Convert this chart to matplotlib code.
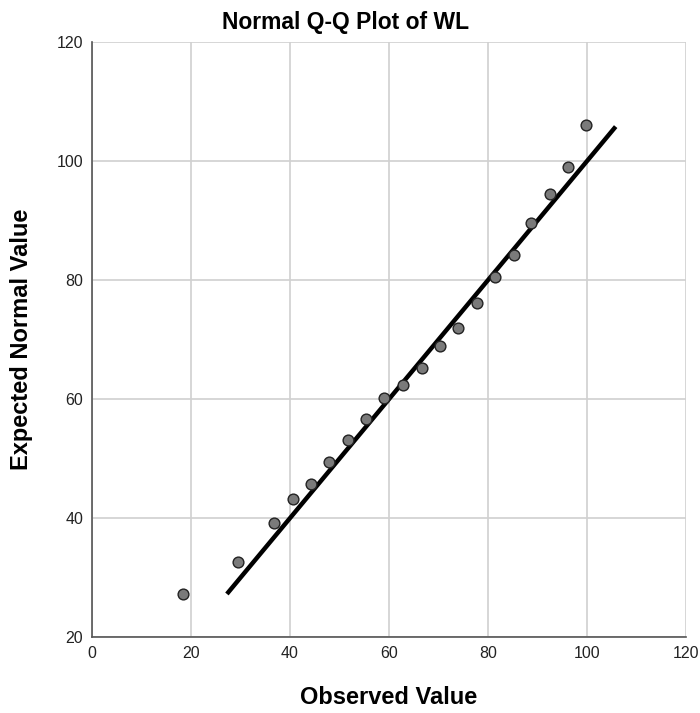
import matplotlib.pyplot as plt

plt.rcParams['font.family'] = ['Liberation Sans', 'DejaVu Sans']

observed = [18.4, 29.5, 36.9, 40.6, 44.3, 48.0, 51.7, 55.4, 59.1, 62.8, 66.6,
            70.3, 74.0, 77.7, 81.4, 85.2, 88.8, 92.5, 96.2, 99.8]
expected = [27.3, 32.7, 39.3, 43.2, 45.8, 49.4, 53.1, 56.7, 60.2, 62.4, 65.3,
            68.9, 72.0, 76.2, 80.6, 84.3, 89.6, 94.5, 99.0, 106.0]
line_x = [27.3, 105.8]
line_y = [27.3, 105.8]

fig = plt.figure(figsize=(7, 7.13), dpi=100)
ax = fig.add_axes([0.131, 0.106, 0.849, 0.835])

ax.grid(True, color='#d0d0d0', linewidth=1.2)
ax.set_axisbelow(True)
ax.plot(line_x, line_y, color='black', linewidth=3.2, solid_capstyle='butt', zorder=2)
ax.scatter(observed, expected, s=60, color='#7a7a7a', edgecolor='#222222',
           linewidth=1.0, zorder=3)

ax.set_xlim(0, 120)
ax.set_ylim(20, 120)
ax.set_xticks(range(0, 121, 20))
ax.set_yticks(range(20, 121, 20))

for s in ['top', 'right']:
    ax.spines[s].set_visible(False)
for s in ['left', 'bottom']:
    ax.spines[s].set_color('#555555')
    ax.spines[s].set_linewidth(1.2)
ax.tick_params(length=0, labelsize=11.5, colors='#222222', pad=6)

fig.text(0.494, 0.968, 'Normal Q-Q Plot of WL', fontsize=16.5, fontweight='bold',
         ha='center', va='center')
ax.set_xlabel('Observed Value', fontsize=17, fontweight='bold', labelpad=18)
ax.set_ylabel('Expected Normal Value', fontsize=17, fontweight='bold', labelpad=17)

plt.savefig('out.png', dpi=100)
